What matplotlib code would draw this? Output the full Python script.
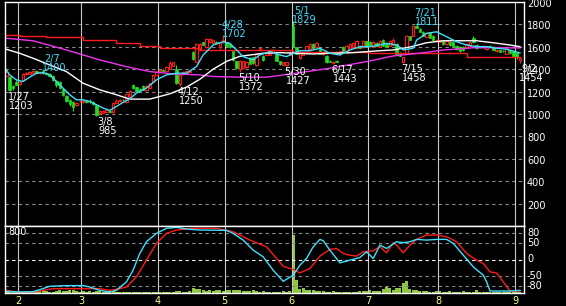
import numpy as np
import matplotlib
matplotlib.use('Agg')
import matplotlib.pyplot as plt

# daily candles, index 0 = 1/26
opens = [1342, 1327, 1250, 1290, 1265, 1305, 1355, 1360, 1370, 1385,
         1365, 1385, 1368, 1360, 1340, 1298, 1290, 1225, 1165, 1125,
         1110, 1076, 1115, 1110, 1120, 1115, 1110, 1080, 1005, 1012,
         1020, 1030, 1016, 1100, 1115, 1125, 1110, 1150, 1262, 1240,
         1222, 1250, 1212, 1235, 1290, 1350, 1380, 1390, 1380, 1400,
         1430, 1400, 1265, 1355, 1370, 1375, 1550, 1465, 1575, 1640,
         1595, 1640, 1630, 1640, 1600, 1640, 1640, 1625, 1560, 1470,
         1400, 1410, 1420, 1500, 1505, 1435, 1580, 1520, 1530, 1530,
         1545, 1540, 1470, 1440, 1435, 1530, 1790, 1595, 1500, 1530,
         1550, 1580, 1625, 1600, 1580, 1535, 1520, 1475, 1452, 1470,
         1535, 1600, 1565, 1580, 1600, 1590, 1610, 1595, 1650, 1640,
         1600, 1635, 1600, 1665, 1630, 1610, 1620, 1625, 1545, 1465,
         1540, 1695, 1700, 1790, 1760, 1735, 1690, 1725, 1700, 1660,
         1645, 1650, 1625, 1640, 1640, 1610, 1600, 1600, 1600, 1610,
         1680, 1620, 1600, 1610, 1580, 1610, 1600, 1560, 1570, 1560,
         1540, 1570, 1560, 1545, 1480]
closes = [1372, 1210, 1230, 1262, 1290, 1360, 1368, 1375, 1380, 1362,
          1378, 1365, 1355, 1335, 1300, 1255, 1230, 1170, 1120, 1085,
          1065, 1100, 1118, 1120, 1108, 1112, 1085, 995, 1028, 1030,
          1032, 1018, 1097, 1120, 1128, 1122, 1175, 1205, 1230, 1205,
          1212, 1215, 1250, 1275, 1345, 1372, 1395, 1385, 1420, 1455,
          1460, 1280, 1350, 1375, 1380, 1385, 1495, 1625, 1625, 1620,
          1670, 1668, 1660, 1630, 1635, 1665, 1610, 1600, 1480, 1410,
          1470, 1470, 1465, 1450, 1455, 1540, 1585, 1478, 1555, 1560,
          1570, 1475, 1445, 1462, 1460, 1555, 1610, 1540, 1555, 1550,
          1605, 1625, 1585, 1635, 1540, 1555, 1460, 1465, 1465, 1468,
          1560, 1555, 1610, 1625, 1630, 1655, 1590, 1650, 1610, 1620,
          1640, 1610, 1650, 1610, 1600, 1650, 1665, 1540, 1520, 1505,
          1698, 1665, 1787, 1770, 1735, 1700, 1725, 1680, 1660, 1665,
          1660, 1627, 1650, 1615, 1605, 1580, 1560, 1570, 1627, 1640,
          1640, 1585, 1602, 1595, 1605, 1600, 1575, 1575, 1555, 1560,
          1580, 1545, 1520, 1505, 1500]
highs = [1390, 1335, 1255, 1300, 1295, 1365, 1375, 1385, 1390, 1390,
         1388, 1400, 1375, 1362, 1345, 1300, 1295, 1230, 1170, 1130,
         1120, 1105, 1125, 1130, 1125, 1135, 1115, 1085, 1032, 1040,
         1040, 1035, 1100, 1130, 1138, 1135, 1180, 1212, 1268, 1245,
         1228, 1262, 1258, 1280, 1350, 1380, 1402, 1398, 1425, 1470,
         1468, 1440, 1355, 1382, 1385, 1392, 1560, 1630, 1632, 1645,
         1680, 1675, 1668, 1648, 1640, 1702, 1645, 1630, 1565, 1475,
         1478, 1475, 1470, 1505, 1510, 1545, 1600, 1525, 1560, 1565,
         1578, 1545, 1475, 1468, 1465, 1560, 1829, 1600, 1560, 1558,
         1610, 1632, 1630, 1640, 1585, 1560, 1525, 1480, 1470, 1480,
         1565, 1605, 1615, 1630, 1640, 1665, 1615, 1660, 1655, 1650,
         1648, 1640, 1665, 1670, 1635, 1660, 1680, 1630, 1550, 1510,
         1705, 1700, 1795, 1811, 1765, 1740, 1730, 1730, 1705, 1672,
         1665, 1655, 1655, 1645, 1645, 1615, 1605, 1605, 1632, 1645,
         1700, 1625, 1610, 1615, 1610, 1615, 1605, 1580, 1575, 1568,
         1585, 1575, 1565, 1550, 1505]
lows = [1335, 1203, 1215, 1255, 1260, 1300, 1350, 1355, 1365, 1355,
        1360, 1360, 1345, 1330, 1295, 1240, 1225, 1160, 1105, 1070,
        1031, 1070, 1105, 1100, 1100, 1100, 1080, 985, 1000, 1008,
        1015, 1010, 1012, 1095, 1110, 1115, 1100, 1145, 1225, 1200,
        1205, 1210, 1208, 1230, 1285, 1345, 1375, 1380, 1378, 1398,
        1425, 1270, 1250, 1350, 1365, 1370, 1480, 1460, 1570, 1612,
        1590, 1635, 1625, 1622, 1580, 1635, 1605, 1592, 1475, 1400,
        1372, 1405, 1415, 1445, 1450, 1430, 1560, 1470, 1525, 1525,
        1540, 1470, 1440, 1435, 1427, 1525, 1600, 1535, 1495, 1525,
        1545, 1575, 1580, 1595, 1535, 1530, 1455, 1460, 1443, 1460,
        1530, 1550, 1560, 1575, 1595, 1585, 1585, 1590, 1605, 1615,
        1595, 1605, 1595, 1605, 1595, 1605, 1615, 1535, 1515, 1458,
        1535, 1660, 1695, 1765, 1730, 1695, 1685, 1675, 1655, 1652,
        1640, 1620, 1620, 1610, 1600, 1575, 1555, 1565, 1595, 1605,
        1635, 1580, 1592, 1590, 1575, 1595, 1570, 1555, 1550, 1552,
        1535, 1540, 1515, 1490, 1454]
volume = [15, 25, 20, 15, 10, 12, 15, 12, 20, 25,
          25, 30, 20, 15, 15, 20, 40, 25, 20, 30,
          40, 25, 15, 20, 15, 20, 15, 25, 20, 15,
          25, 30, 25, 15, 12, 15, 15, 12, 15, 12,
          15, 12, 15, 15, 12, 15, 15, 12, 15, 15,
          15, 20, 25, 15, 15, 20, 60, 45, 45, 35,
          25, 35, 25, 30, 35, 25, 30, 35, 30, 35,
          35, 25, 20, 25, 40, 20, 15, 20, 15, 12,
          15, 12, 15, 20, 15, 25, 690, 160, 52, 60,
          40, 30, 30, 25, 20, 20, 15, 15, 20, 15,
          15, 15, 15, 12, 15, 15, 25, 25, 25, 30,
          25, 25, 25, 50, 70, 55, 35, 60, 60, 120,
          140, 50, 40, 30, 20, 20, 20, 15, 15, 20,
          20, 15, 15, 20, 15, 15, 15, 20, 15, 15,
          15, 30, 15, 12, 15, 15, 12, 15, 15, 12,
          15, 12, 15, 12, 15]

# moving averages (day index, value)
ma_short_idx = [0, 1, 3, 5, 7, 9, 11, 13, 15, 17, 19, 21, 23, 25, 27, 29, 31, 33, 35, 37,
                39, 42, 45, 48, 51, 54, 57, 59, 62, 65, 67, 69, 71, 74, 76, 79, 82, 84, 86, 88,
                91, 94, 97, 100, 103, 106, 109, 112, 114, 117, 119, 122, 123, 126, 129, 132,
                135, 138, 141, 144, 147, 150, 154]
ma_short = [1394, 1349, 1305, 1290, 1329, 1364, 1370, 1349, 1290, 1231, 1172, 1127, 1127,
            1112, 1083, 1053, 1032, 1068, 1103, 1135, 1187, 1231, 1305, 1349, 1364, 1364,
            1423, 1527, 1616, 1645, 1631, 1572, 1512, 1483, 1527, 1557, 1527, 1512, 1542,
            1565, 1565, 1587, 1542, 1527, 1572, 1601, 1601, 1616, 1631, 1616, 1572, 1587,
            1660, 1720, 1734, 1690, 1645, 1616, 1601, 1601, 1587, 1578, 1545]
ma_mid_idx = [0, 4, 8, 13, 18, 23, 28, 33, 37, 43, 49, 54, 58, 62, 66, 70, 77, 82, 92, 97,
              104, 112, 116, 121, 126, 131, 141, 146, 151, 154]
ma_mid = [1578, 1542, 1498, 1438, 1379, 1275, 1216, 1172, 1133, 1133, 1180, 1240, 1310,
          1400, 1470, 1515, 1542, 1548, 1536, 1542, 1548, 1565, 1572, 1598, 1636, 1654,
          1654, 1636, 1616, 1601]
ma_long_idx = [0, 8, 18, 28, 36, 43, 50, 58, 62, 70, 78, 86, 97, 108, 116, 126, 131, 136,
               140, 146, 154]
ma_long = [1676, 1654, 1572, 1483, 1423, 1379, 1358, 1349, 1335, 1329, 1329, 1360, 1409,
           1468, 1518, 1550, 1572, 1581, 1592, 1592, 1590]
ma_year_idx = [0, 4, 12, 23, 33, 40, 46, 58, 66, 86, 109, 138, 154]
ma_year = [1705, 1695, 1687, 1660, 1634, 1610, 1590, 1575, 1568, 1555, 1542, 1512, 1512]

# oscillator panel
osc1_idx = [0, 4, 8, 11, 13, 18, 23, 25, 28, 31, 33, 36, 38, 40, 42, 45, 48, 51, 54, 58,
            66, 68, 71, 74, 77, 80, 83, 86, 88, 90, 92, 94, 95, 97, 100, 103, 106, 108, 110,
            112, 114, 117, 119, 121, 123, 126, 129, 132, 134, 137, 140, 143, 144, 145, 151, 154]
osc1 = [-95, -97, -96, -87, -80, -78, -78, -82, -92, -97, -92, -67, -32, 18, 53, 78, 93,
        96, 91, 88, 87, 78, 58, 28, 8, -32, -65, -47, -17, 3, 38, 60, 56, 28, -10, -2, 6,
        23, 3, 43, 33, 53, 50, 53, 60, 58, 60, 60, 48, 13, -22, -47, -67, -94, -94, -92]
osc2_idx = [0, 3, 8, 11, 14, 23, 28, 31, 34, 36, 39, 42, 45, 48, 51, 56, 63, 68, 73, 78,
            83, 86, 88, 91, 94, 97, 99, 101, 103, 105, 107, 110, 112, 114, 116, 117, 119,
            121, 123, 126, 129, 132, 135, 138, 141, 143, 145, 147, 149, 151, 154]
osc2 = [-92, -97, -97, -92, -87, -87, -87, -92, -87, -82, -52, -2, 48, 78, 88, 93, 93, 83,
        58, 38, -20, -30, -40, -27, 10, 30, 33, 18, 13, 10, 23, 26, 38, 20, 50, 43, 20, 43,
        60, 73, 73, 68, 53, 18, -2, -12, -37, -40, -67, -94, -94]

month_starts = [4, 23, 46, 66, 86, 109, 130, 153]
month_labels = ['2', '3', '4', '5', '6', '7', '8', '9']
price_ticks = [200, 400, 600, 800, 1000, 1200, 1400, 1600, 1800, 2000]
osc_ticks = [80, 50, 0, -50, -80]

# marked highs / lows
mark_idx = [1, 11, 27, 52, 65, 70, 86, 84, 98, 119, 123, 154]
mark_date = ['1/27', '2/7', '3/8', '4/12', '4/28', '5/10', '5/1', '5/30', '6/17',
             '7/15', '7/21', '9/2']
mark_kind = ['low', 'high', 'low', 'low', 'high', 'low', 'high', 'low', 'low', 'low',
             'high', 'low']

RED = '#ff1a1a'
GREEN = '#22dd22'
CYAN = '#3fe0ff'
MAGENTA = '#ee33ee'
GRID = '#8a8a8a'
FS = 7

opens = np.array(opens)
closes = np.array(closes)
highs = np.array(highs)
lows = np.array(lows)
idx = np.arange(len(closes))
up = closes > opens
dn = ~up

W, H = 566, 306
fig = plt.figure(figsize=(W / 100, H / 100), dpi=100, facecolor='black')
ax = fig.add_axes([5 / W, 80 / H, 519 / W, 224 / H])
axv = fig.add_axes([5 / W, 13 / H, 519 / W, 67 / H])
ax2 = fig.add_axes([5 / W, 13 / H, 519 / W, 67 / H])
ax2.set_facecolor('none')
axv.set_facecolor('black')
ax.set_facecolor('black')

xlim = (-0.4, 155.2)
for a in (ax, axv, ax2):
    a.set_xlim(*xlim)
    a.set_xticks([])
    a.set_yticks([])
    for s in a.spines.values():
        s.set_visible(False)
for a in (ax, ax2):
    for s in a.spines.values():
        s.set_visible(True)
        s.set_color('white')
        s.set_linewidth(1.0)
        s.set_zorder(10)

# price panel
ax.set_ylim(0, 2000)
for v in price_ticks[:-1]:
    ax.axhline(v, color=GRID, lw=0.8, ls=(0, (3, 3)), zorder=1)
for m in month_starts:
    ax.axvline(m - 0.5, color='#c8c8c8', lw=0.8, zorder=1)
    ax2.axvline(m - 0.5, color='#c8c8c8', lw=0.8, zorder=1)

ax.vlines(idx[up], lows[up], highs[up], colors=RED, lw=0.8, zorder=3)
ax.vlines(idx[dn], lows[dn], highs[dn], colors=GREEN, lw=0.8, zorder=3)
ax.bar(idx[up], closes[up] - opens[up], bottom=opens[up], width=0.72,
       facecolor='black', edgecolor=RED, lw=0.8, zorder=4)
ax.bar(idx[dn], opens[dn] - closes[dn], bottom=closes[dn], width=0.72,
       facecolor=GREEN, edgecolor=GREEN, lw=0.5, zorder=4)

ax.plot(ma_year_idx, ma_year, color=RED, lw=1, drawstyle='steps-post', zorder=5)
ax.plot(ma_long_idx, ma_long, color=MAGENTA, lw=1, zorder=5)
ax.plot(ma_mid_idx, ma_mid, color='white', lw=1, zorder=5)
ax.plot(ma_short_idx, ma_short, color=CYAN, lw=1, zorder=6)

for v in price_ticks:
    ax.annotate(str(v), xy=(1, v), xycoords=ax.get_yaxis_transform(),
                xytext=(3, -2), textcoords='offset pixels', va='center', ha='left',
                color='white', fontsize=FS, annotation_clip=False)

for i, d, k in zip(mark_idx, mark_date, mark_kind):
    if k == 'low':
        p = lows[i]
        ax.annotate(d, xy=(i, p), xytext=(9, -1), textcoords='offset pixels',
                    ha='center', va='top', color='white', fontsize=FS, zorder=8,
                    annotation_clip=False)
        ax.annotate(str(p), xy=(i, p), xytext=(11.5, -10), textcoords='offset pixels',
                    ha='center', va='top', color='white', fontsize=FS, zorder=8,
                    annotation_clip=False)
    else:
        p = highs[i]
        ax.annotate(str(p), xy=(i, p), xytext=(11, -2), textcoords='offset pixels',
                    ha='center', va='baseline', color=CYAN, fontsize=FS, zorder=8,
                    annotation_clip=False)
        ax.annotate(d, xy=(i, p), xytext=(9, 7), textcoords='offset pixels',
                    ha='center', va='baseline', color=CYAN, fontsize=FS, zorder=8,
                    annotation_clip=False)

# volume + oscillator panel
axv.set_ylim(0, 800)
axv.bar(idx, volume, width=0.9, color='#8ec63f', zorder=2)
ax2.set_ylim(-100, 100)
for v in osc_ticks:
    ax2.axhline(v, color='white' if v == 0 else GRID, lw=0.8, ls=(0, (3, 3)), zorder=1)
ax2.plot(osc2_idx, osc2, color=RED, lw=1, zorder=4)
ax2.plot(osc1_idx, osc1, color=CYAN, lw=1, zorder=5)
for v in osc_ticks:
    ax2.annotate(str(v), xy=(1, v), xycoords=ax2.get_yaxis_transform(),
                 xytext=(3, 0), textcoords='offset pixels', va='center', ha='left',
                 color='white', fontsize=FS, annotation_clip=False)
ax2.annotate('800', xy=(0, 1), xycoords='axes fraction', xytext=(3, -1),
             textcoords='offset pixels', va='top', ha='left', color='white', fontsize=FS)
for m, lab in zip(month_starts, month_labels):
    ax2.annotate(lab, xy=(m - 0.5, 0), xycoords=ax2.get_xaxis_transform(),
                 xytext=(0, -3), textcoords='offset pixels', va='top', ha='center',
                 color='#ffff88', fontsize=FS, annotation_clip=False)

fig.savefig('out.png', dpi=100, facecolor='black')
